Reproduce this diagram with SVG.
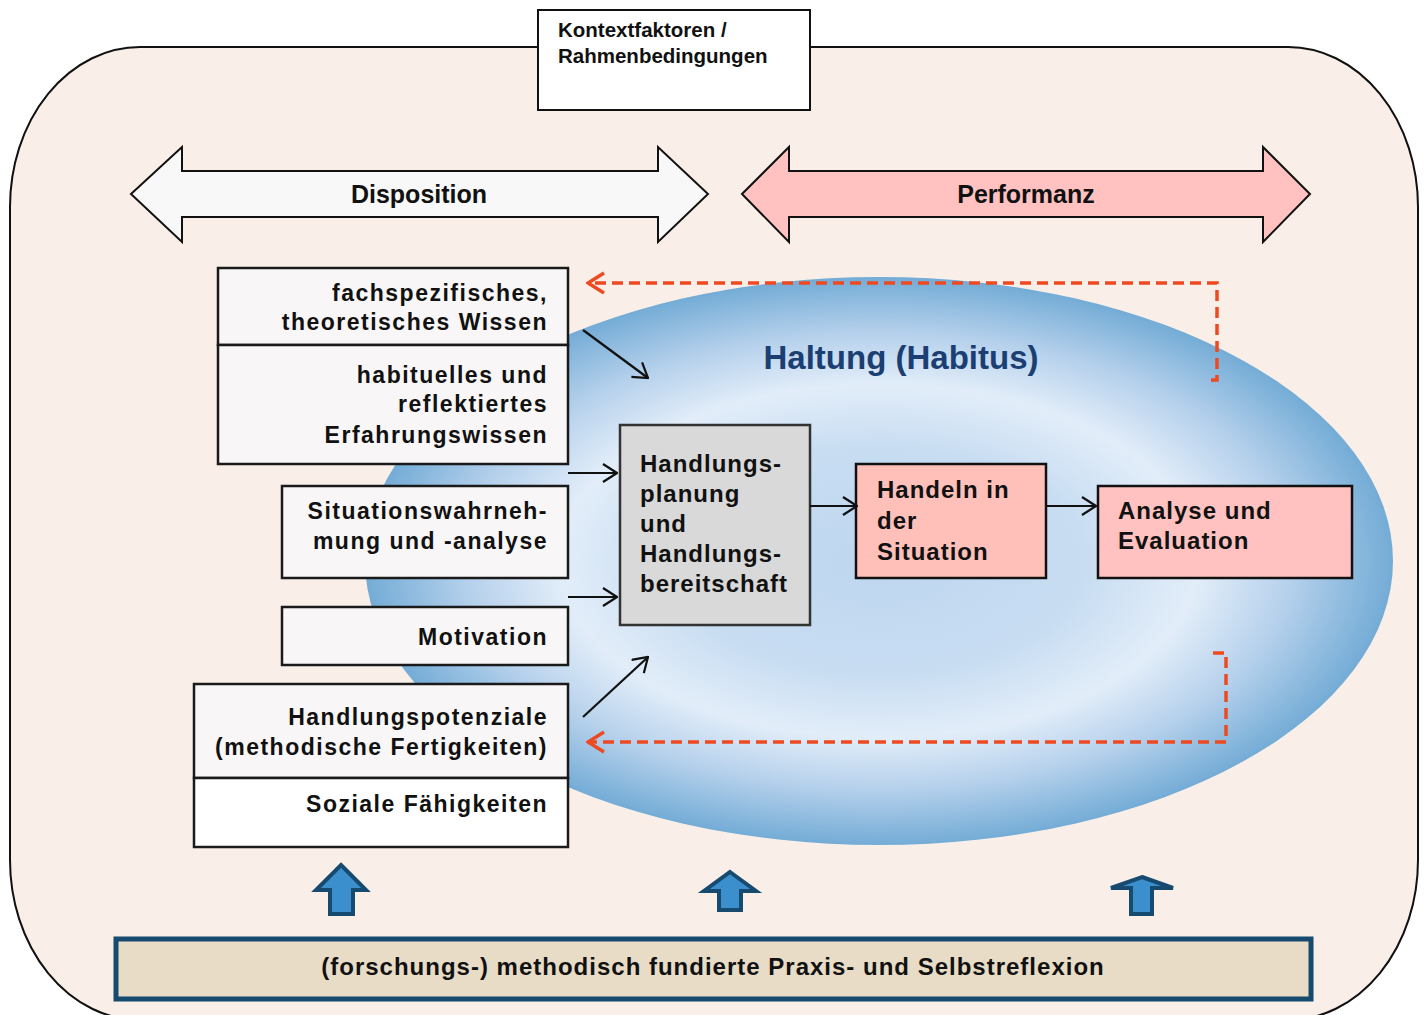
<svg xmlns="http://www.w3.org/2000/svg" width="1426" height="1015" viewBox="0 0 1426 1015">
<defs>
<radialGradient id="habGrad" cx="0.5" cy="0.5" r="0.5">
<stop offset="0" stop-color="#bdd6ef"/>
<stop offset="0.4" stop-color="#c8ddf2"/>
<stop offset="0.62" stop-color="#e2edf9"/>
<stop offset="0.8" stop-color="#b6d1ec"/>
<stop offset="1" stop-color="#74acd6"/>
</radialGradient>
<marker id="blk" viewBox="0 0 16 20" refX="15" refY="10" markerWidth="16" markerHeight="20" markerUnits="userSpaceOnUse" orient="auto">
<path d="M1,1 L15,10 L1,19" fill="none" stroke="#111" stroke-width="2.2"/>
</marker>
<marker id="red" viewBox="0 0 20 24" refX="18" refY="12" markerWidth="20" markerHeight="24" markerUnits="userSpaceOnUse" orient="auto">
<path d="M2,2 L18,12 L2,22" fill="none" stroke="#ee4a22" stroke-width="3.5"/>
</marker>
</defs>
<style>
.box{stroke:#1a1a1a;stroke-width:2.5}
.lt{font-family:"Liberation Sans",Arial,sans-serif;font-weight:bold;font-size:23px;letter-spacing:1.5px;fill:#111;text-anchor:end}
.ct{font-family:"Liberation Sans",Arial,sans-serif;font-weight:bold;font-size:24px;letter-spacing:1px;fill:#111}
.hd{font-family:"Liberation Sans",Arial,sans-serif;font-weight:bold;font-size:25px;fill:#111;text-anchor:middle}
.con{fill:none;stroke:#111;stroke-width:2.2}
.dash{fill:none;stroke:#ee4a22;stroke-width:3.5;stroke-dasharray:11 6}
.up{fill:#3a8fcc;stroke:#174a6f;stroke-width:4;stroke-linejoin:miter}
</style>

<g id="frame">
<path d="M140,47 H1288 A130,160 0 0 1 1418,207 V860 A130,160 0 0 1 1288,1020 H140 A130,160 0 0 1 10,860 V207 A130,160 0 0 1 140,47 Z" fill="#f9efe8" stroke="#111" stroke-width="2"/>
</g>

<g id="kontext">
<rect x="538" y="10" width="272" height="100" fill="#ffffff" stroke="#111" stroke-width="2"/>
<text x="558" y="37" font-family="Liberation Sans, Arial, sans-serif" font-weight="bold" font-size="20.5" fill="#111">Kontextfaktoren /</text>
<text x="558" y="63" font-family="Liberation Sans, Arial, sans-serif" font-weight="bold" font-size="20.5" fill="#111">Rahmenbedingungen</text>
</g>

<g id="disposition">
<path d="M131,194 L182,147 L182,171 L658,171 L658,147 L708,194 L658,242 L658,217 L182,217 L182,242 Z" fill="#f8f8f8" stroke="#111" stroke-width="2"/>
<text class="hd" x="419" y="203">Disposition</text>
</g>

<g id="performanz">
<path d="M742,194 L789,147 L789,171 L1263,171 L1263,147 L1310,194 L1263,242 L1263,217 L789,217 L789,242 Z" fill="#ffc2c0" stroke="#111" stroke-width="2"/>
<text class="hd" x="1026" y="203">Performanz</text>
</g>

<g id="haltung">
<ellipse cx="879" cy="561" rx="514" ry="284" fill="url(#habGrad)"/>
<text x="901" y="369" font-family="Liberation Sans, Arial, sans-serif" font-weight="bold" font-size="33" fill="#1b3f73" text-anchor="middle">Haltung (Habitus)</text>
</g>

<g id="wissen">
<rect class="box" x="218" y="268" width="350" height="77" fill="#f8f6f6"/>
<text class="lt" x="548" y="301">fachspezifisches,</text>
<text class="lt" x="548" y="330">theoretisches Wissen</text>
</g>

<g id="erfahrung">
<rect class="box" x="218" y="345" width="350" height="119" fill="#f8f6f6"/>
<text class="lt" x="548" y="383">habituelles und</text>
<text class="lt" x="548" y="412">reflektiertes</text>
<text class="lt" x="548" y="443">Erfahrungswissen</text>
</g>

<g id="situation">
<rect class="box" x="282" y="486" width="286" height="92" fill="#f8f6f6"/>
<text class="lt" x="548" y="519">Situationswahrneh-</text>
<text class="lt" x="548" y="549">mung und -analyse</text>
</g>

<g id="motivation">
<rect class="box" x="282" y="607" width="286" height="58" fill="#f8f6f6"/>
<text class="lt" x="548" y="645">Motivation</text>
</g>

<g id="potenziale">
<rect class="box" x="194" y="684" width="374" height="94" fill="#f8f6f6"/>
<text class="lt" x="548" y="725">Handlungspotenziale</text>
<text class="lt" x="548" y="755">(methodische Fertigkeiten)</text>
</g>

<g id="sozial">
<rect class="box" x="194" y="778" width="374" height="69" fill="#ffffff"/>
<text class="lt" x="548" y="812">Soziale Fähigkeiten</text>
</g>

<g id="planung">
<rect x="620" y="425" width="190" height="200" fill="#d9d9d9" stroke="#333" stroke-width="2.5"/>
<text class="ct" x="640" y="472">Handlungs-</text>
<text class="ct" x="640" y="502">planung</text>
<text class="ct" x="640" y="532">und</text>
<text class="ct" x="640" y="562">Handlungs-</text>
<text class="ct" x="640" y="592">bereitschaft</text>
</g>

<g id="handeln">
<rect x="856" y="464" width="190" height="114" fill="#ffc0b9" stroke="#111" stroke-width="2.5"/>
<text class="ct" x="877" y="498">Handeln in</text>
<text class="ct" x="877" y="529">der</text>
<text class="ct" x="877" y="560">Situation</text>
</g>

<g id="analyse">
<rect x="1098" y="486" width="254" height="92" fill="#ffc2c0" stroke="#111" stroke-width="2.5"/>
<text class="ct" x="1118" y="519">Analyse und</text>
<text class="ct" x="1118" y="549">Evaluation</text>
</g>

<g id="connectors">
<line class="con" x1="583" y1="330" x2="648" y2="378" marker-end="url(#blk)"/>
<line class="con" x1="568" y1="473" x2="617" y2="473" marker-end="url(#blk)"/>
<line class="con" x1="568" y1="597" x2="617" y2="597" marker-end="url(#blk)"/>
<line class="con" x1="583" y1="717" x2="648" y2="657" marker-end="url(#blk)"/>
<line class="con" x1="810" y1="506" x2="857" y2="506" marker-end="url(#blk)"/>
<line class="con" x1="1046" y1="506" x2="1096" y2="506" marker-end="url(#blk)"/>
<path class="dash" d="M1211,380 H1217 V283 H588" marker-end="url(#red)"/>
<path class="dash" d="M1213,653 H1226 V742 H588" marker-end="url(#red)"/>
</g>

<g id="uparrows">
<path class="up" d="M341,865 L366,890 L353,890 L353,914 L330,914 L330,890 L316,890 Z"/>
<path class="up" d="M730,872 L756,891 L741,891 L741,910 L719,910 L719,891 L704,891 Z"/>
<path class="up" d="M1142,877 L1173,888 L1152,888 L1152,914 L1131,914 L1131,888 L1111,888 Z"/>
</g>

<g id="reflexion">
<rect x="116" y="939" width="1195" height="60" fill="#e8dcc6" stroke="#174a6f" stroke-width="5"/>
<text x="713" y="975" font-family="Liberation Sans, Arial, sans-serif" font-weight="bold" font-size="24" letter-spacing="1" fill="#111" text-anchor="middle">(forschungs-) methodisch fundierte Praxis- und Selbstreflexion</text>
</g>
</svg>
